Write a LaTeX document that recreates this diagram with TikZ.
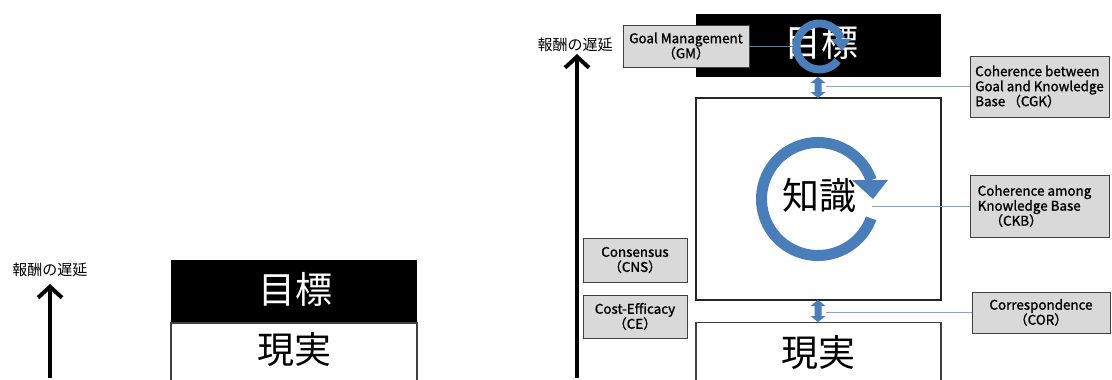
\documentclass[tikz,border=0pt]{standalone}
\usepackage{fontspec}
\setmainfont{Noto Sans CJK JP}
\newfontfamily\tagfont[FakeBold=1.3]{Noto Sans CJK JP}
\usetikzlibrary{arrows.meta}
\definecolor{ringblue}{HTML}{4A7EBB}
\definecolor{leadblue}{HTML}{7FA6D8}
\definecolor{boxgray}{HTML}{D9D9D9}
\definecolor{edgegray}{HTML}{404040}
\tikzset{
  tagbox/.style={draw=edgegray, line width=0.9pt, fill=boxgray, inner sep=0pt,
    font=\tagfont\fontsize{13.4}{15}\selectfont, align=center},
  goalbox/.style={fill=black, inner sep=0pt},
  plainbox/.style={draw=black!85, line width=1.4pt, fill=white, inner sep=0pt},
  bigword/.style={font=\fontsize{37}{42}\selectfont, inner sep=0pt},
  lagword/.style={font=\fontsize{15}{17}\selectfont, inner sep=0pt},
  delayarrow/.style={line width=4pt, -{Straight Barb[length=11pt,width=24pt]}},
  leader/.style={draw=leadblue, line width=0.8pt},
  gmleader/.style={draw=ringblue, line width=0.8pt},
}
\begin{document}
\begin{tikzpicture}[x=1pt,y=1pt]
\useasboundingbox (0,0) rectangle (1112,-380);
\clip (0,0) rectangle (1112,-380);

% ---------- left panel ----------
\node[lagword] (lagL) at (50,-270) {報酬の遅延};
\coordinate (baseL) at (50,-378);
\coordinate (tipL) at (50,-284);
\draw[delayarrow] (baseL) -- (tipL);

\node[goalbox, minimum width=246pt, minimum height=62pt] (goalL) at (294,-291) {};
\node[bigword, text=white] (goalLtxt) at (295,-289) {目標};
\node[plainbox, draw=edgegray, minimum width=246pt, minimum height=70pt, anchor=north] (realL) at (goalL.south) {};
\node[bigword] (realLtxt) at (294,-350) {現実};

% ---------- right panel ----------
\node[lagword] (lagR) at (575,-45) {報酬の遅延};
\coordinate (baseR) at (577,-378);
\coordinate (tipR) at (577,-54);
\draw[delayarrow] (baseR) -- (tipR);

% goal, knowledge and reality blocks
\node[goalbox, minimum width=245pt, minimum height=63pt] (goalR) at (818.5,-45.5) {};
\node[bigword, text=white] (goalRtxt) at (821,-42) {目標};
\node[plainbox, minimum width=245pt, minimum height=202pt] (know) at (818.5,-199) {};
\node[bigword] (knowtxt) at (819,-196) {知識};
\node[plainbox, draw=edgegray, minimum width=245pt, minimum height=70pt, anchor=north] (realR) at (818.5,-322) {};
\node[bigword] (realRtxt) at (818.5,-353) {現実};

% cycle inside the goal block
\fill[ringblue] (819.5,-46.5) ++(19.8:27) arc[start angle=19.8, end angle=322, radius=27]
  -- ++(322:-8) arc[start angle=322, end angle=19.8, radius=19] -- cycle;
\fill[ringblue] (831,-39) -- (851,-39) -- (842,-51) -- cycle;

% cycle inside the knowledge block
\fill[ringblue] (818,-199) ++(19.6:62) arc[start angle=19.6, end angle=340, radius=62]
  -- ++(340:-11) arc[start angle=340, end angle=19.6, radius=51] -- cycle;
\fill[ringblue] (852,-180) -- (888,-180) -- (873,-199) -- cycle;

% two-way links between the blocks
\fill[ringblue] (818,-77) -- (825.5,-83) -- (821.5,-83) -- (821.5,-92) -- (825.5,-92)
  -- (818,-98) -- (810.5,-92) -- (814.5,-92) -- (814.5,-83) -- (810.5,-83) -- cycle;
\fill[ringblue] (818,-300) -- (825.5,-306) -- (821.5,-306) -- (821.5,-316) -- (825.5,-316)
  -- (818,-322) -- (810.5,-316) -- (814.5,-316) -- (814.5,-306) -- (810.5,-306) -- cycle;

% criteria tags
\node[tagbox, minimum width=126pt, minimum height=42pt] (gm) at (686,-46)
  {Goal Management\\（GM）};
\node[tagbox, minimum width=139pt, minimum height=61pt, align=left] (cgk) at (1039.5,-86.5)
  {Coherence between\\Goal and Knowledge\\Base\,（CGK）};
\node[tagbox, minimum width=139pt, minimum height=62pt, align=left] (ckb) at (1039.5,-206)
  {Coherence among\hspace*{10pt}\\Knowledge Base\\\hspace*{12pt}（CKB）};
\node[tagbox, minimum width=138pt, minimum height=41pt] (cor) at (1041,-312.5)
  {Correspondence\\（COR）};
\node[tagbox, minimum width=104pt, minimum height=44pt] (cns) at (635,-260)
  {Consensus\\（CNS）};
\node[tagbox, minimum width=104pt, minimum height=43pt] (ce) at (635,-316.5)
  {Cost-Efficacy\\（CE）};

% leader lines
\coordinate (gmEnd) at (793,-46);
\coordinate (cgkStart) at (826,-86.5);
\coordinate (ckbStart) at (872,-206);
\coordinate (corStart) at (826,-312.5);
\draw[gmleader] (gm.east) -- (gmEnd);
\draw[leader] (cgkStart) -- (cgk.west);
\draw[leader] (ckbStart) -- (ckb.west);
\draw[leader] (corStart) -- (cor.west);
\end{tikzpicture}
\end{document}
